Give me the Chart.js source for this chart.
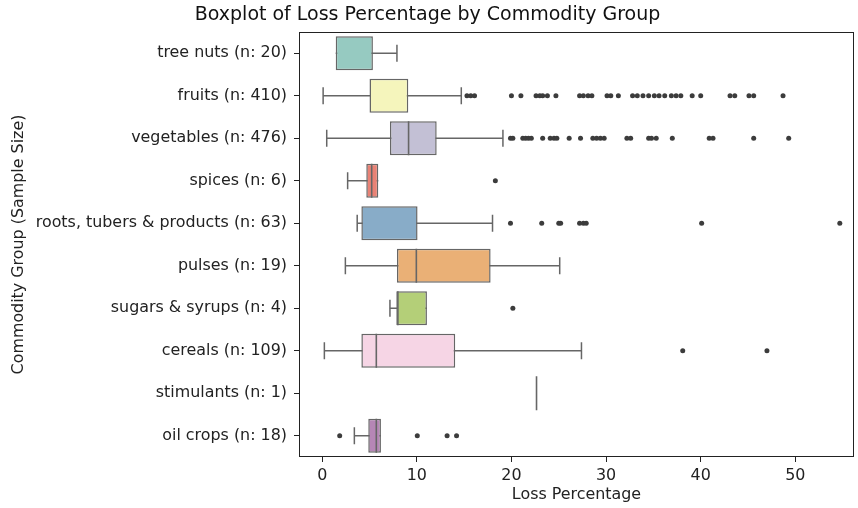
<!DOCTYPE html>
<html><head><meta charset="utf-8">
<script src="https://cdn.jsdelivr.net/npm/chart.js@4/dist/chart.umd.min.js"></script>
<style>html,body{margin:0;padding:0;background:#fff}#wrap{width:858px;height:508px;position:relative}</style>
</head><body><div id="wrap"><canvas id="c" width="858" height="508"></canvas></div>
<script>
const categories = ['tree nuts (n: 20)','fruits (n: 410)','vegetables (n: 476)','spices (n: 6)','roots, tubers & products (n: 63)','pulses (n: 19)','sugars & syrups (n: 4)','cereals (n: 109)','stimulants (n: 1)','oil crops (n: 18)'];
const whiskerLow  = [1.43, 0.1, 0.48, 2.69, 3.7, 2.45, 7.16, 0.23, 22.65, 3.4];
const q1          = [1.43, 5.0, 7.16, 4.66, 4.14, 7.9, 7.83, 4.14, 22.65, 4.87];
const median      = [1.43, 5.0, 9.13, 5.23, 4.14, 9.95, 8.0, 5.72, 22.65, 5.72];
const q3          = [5.36, 9.1, 12.1, 5.93, 10.08, 17.8, 11.07, 14.06, 22.65, 6.21];
const whiskerHigh = [7.9, 14.7, 19.1, 5.93, 18.0, 25.1, 11.07, 27.4, 22.65, 6.21];
const outliers = [
  [],
  [15.3,15.7,16.1,20.0,21.0,22.6,23.0,23.3,23.8,24.7,27.2,27.6,28.1,28.5,30.1,30.5,31.3,32.8,33.3,33.9,34.5,35.1,35.6,36.2,36.9,37.4,37.9,39.1,40.0,43.1,43.6,45.1,45.6,48.7],
  [19.9,20.15,21.2,21.5,21.8,22.1,23.3,24.1,24.5,24.8,26.1,27.3,28.6,29.0,29.4,29.8,32.2,32.6,34.5,34.8,35.3,37.0,40.9,41.3,45.6,49.3],
  [18.3],
  [19.9,23.2,25.0,25.2,27.2,27.6,27.9,40.1,54.7],
  [],
  [20.15],
  [38.1,47.0],
  [],
  [1.85,10.05,13.2,14.2]
];
const boxColors = ['#96cac1','#f5f5bc','#c3c0d5','#e98275','#88acc8','#eab076','#b4cf78','#f6d5e5','#d9d9d9','#b686b6'];
const xTicks = [0,10,20,30,40,50];

const FONT = 'DejaVu Sans';
const LINE = '#666666';
const CAP = 0.2, HALF = 0.4;

const datasets = [];
datasets.push({
  type:'bar', indexAxis:'y', xAxisID:'x', yAxisID:'y', order:2,
  data: categories.map((c,i)=> q3[i]>q1[i] ? [q1[i], q3[i]] : null),
  backgroundColor: boxColors, borderColor: LINE, borderWidth: 1.5, borderSkipped:false,
  barPercentage:0.8, categoryPercentage:1
});
function seg(points, order, width){
  datasets.push({type:'scatter', xAxisID:'x', yAxisID:'yl', order:order, showLine:true,
    data:points, borderColor:LINE, borderWidth:width, pointRadius:0, fill:false, tension:0});
}
categories.forEach((c,i)=>{
  if (whiskerHigh[i] > whiskerLow[i]) {
    seg([{x:whiskerLow[i],y:i},{x:whiskerHigh[i],y:i}], 3, 1.5);
    if (whiskerLow[i] < q1[i]) seg([{x:whiskerLow[i],y:i-CAP},{x:whiskerLow[i],y:i+CAP}], 3, 1.5);
    if (whiskerHigh[i] > q3[i]) seg([{x:whiskerHigh[i],y:i-CAP},{x:whiskerHigh[i],y:i+CAP}], 3, 1.5);
  }
  const onEdge = q3[i] > q1[i] && (median[i] === q1[i] || median[i] === q3[i]);
  if (!onEdge) seg([{x:median[i],y:i-HALF},{x:median[i],y:i+HALF}], 1, 1.6);
});
datasets.push({type:'scatter', xAxisID:'x', yAxisID:'yl', order:0,
  data: outliers.flatMap((arr,i)=>arr.map(v=>({x:v,y:i}))),
  pointRadius:2.5, pointBackgroundColor:'#3c3c3c', pointBorderWidth:0, borderWidth:0});

const framePlugin = {
  id:'frame',
  afterDraw(chart){
    const a = chart.chartArea, ctx = chart.ctx;
    ctx.save(); ctx.strokeStyle='#222'; ctx.lineWidth=1;
    ctx.strokeRect(Math.round(a.left)+0.5, Math.round(a.top)+0.5, Math.round(a.right-a.left)-1, Math.round(a.bottom-a.top)-1);
    ctx.restore();
  }
};

new Chart(document.getElementById('c'), {
  type:'bar',
  data:{ labels: categories, datasets },
  options:{
    responsive:false, animation:false, devicePixelRatio:1,
    layout:{padding:{left:0,right:3,top:0,bottom:0}},
    plugins:{
      legend:{display:false}, tooltip:{enabled:false},
      title:{display:true, text:'Boxplot of Loss Percentage by Commodity Group',
        font:{family:FONT,size:19,weight:'normal',lineHeight:1.2}, color:'#111', padding:{top:4,bottom:5.2}}
    },
    scales:{
      x:{type:'linear', position:'bottom', min:-2.45, max:56.2, offset:false,
        afterBuildTicks(s){ s.ticks = xTicks.map(v=>({value:v})); },
        ticks:{font:{family:FONT,size:15.9}, color:'#222', padding:4},
        grid:{display:true, offset:false, drawOnChartArea:false, drawTicks:true, tickLength:5, tickColor:'#222'},
        border:{display:false},
        title:{display:true, text:'Loss Percentage', font:{family:FONT,size:15.9}, color:'#222', padding:{top:0,bottom:3.5}},
        afterFit(s){ s.height = 51; }
      },
      y:{type:'category', position:'left', offset:true,
        ticks:{font:{family:FONT,size:15.9}, color:'#222', padding:7},
        grid:{display:true, drawOnChartArea:false, drawTicks:true, tickLength:5, tickColor:'#222', offset:false},
        border:{display:false},
        title:{display:true, text:'Commodity Group (Sample Size)', font:{family:FONT,size:15.9}, color:'#222', padding:{top:9,bottom:0}},
        afterFit(s){ s.width = 299; }
      },
      yl:{type:'linear', display:false, min:-0.5, max:9.5, reverse:true}
    }
  },
  plugins:[framePlugin]
});
</script></body></html>
